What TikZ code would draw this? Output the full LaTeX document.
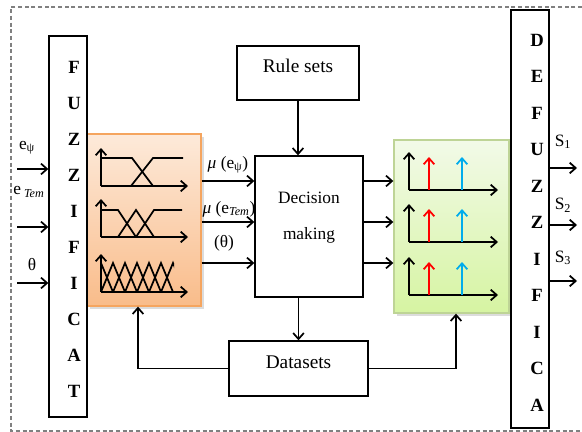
\documentclass[tikz,border=0pt]{standalone}
\usepackage{fontspec}
\setmainfont{Liberation Serif}
\usetikzlibrary{arrows.meta,positioning,fit,calc,shadows}
\definecolor{orangeline}{RGB}{245,165,95}
\definecolor{orangetop}{RGB}{253,234,218}
\definecolor{orangebot}{RGB}{249,188,138}
\definecolor{greenline}{RGB}{190,212,150}
\definecolor{greentop}{RGB}{242,250,232}
\definecolor{greenbot}{RGB}{214,244,162}
\definecolor{skyblue}{RGB}{0,172,236}
\tikzset{
  box/.style={draw,line width=1pt,inner sep=0pt,font=\fontsize{14.5}{17}\selectfont},
  column/.style={draw,line width=1pt,inner sep=0pt,fill=white},
  letter/.style={inner sep=0pt,font=\fontsize{14}{16}\selectfont\bfseries},
  lbl/.style={inner sep=0pt,font=\fontsize{13}{15}\selectfont},
  flow/.style={->,line width=1.3pt},
  mf/.style={line width=1.3pt},
  setbox/.style={line width=1pt,inner sep=0pt,drop shadow={shadow xshift=2pt,shadow yshift=-2pt,fill=gray!55}}
}
\begin{document}
\begin{tikzpicture}[x=0.75pt,y=-0.75pt,>={Straight Barb[length=4.5pt,width=8pt]}]
\useasboundingbox (0,0) rectangle (582,432);
\draw[gray,line width=0.8pt,dash pattern=on 3pt off 2pt] (582,7) -- (11,7) -- (11,431) -- (582,431);

\node[setbox,draw=orangeline,top color=orangetop,bottom color=orangebot,fit={(87,134) (201,306)}] (fuzzsets) {};
\node[setbox,draw=greenline,top color=greentop,bottom color=greenbot,fit={(394,140) (509,313)}] (outsets) {};
\node[column,fit={(49,36) (87,417)}] (fuzz) {};
\node[column,fit={(511,10) (549,428)}] (defuz) {};
\node[box,fit={(237,46) (359,100)}] (rules) {Rule sets};
\node[box,fit={(255,156) (363,297)}] (dec) {};
\node[lbl,align=center,font=\fontsize{13}{27}\selectfont] (dectext) at (309,218) {Decision\\making};
\node[box,fit={(229,341) (368,396)}] (data) {Datasets};

\foreach \l [count=\i from 0] in {F,U,Z,Z,I,F,I,C,A,T}
  \node[letter] at (74,67+36*\i) {\l};
\foreach \l [count=\i from 0] in {D,E,F,U,Z,Z,I,F,I,C,A}
  \node[letter] at (537,40+36.5*\i) {\l};

\coordinate (in1) at (17,169);
\coordinate (in2) at (17,227);
\coordinate (in3) at (17,283);
\foreach \c in {in1,in2,in3}
  \draw[flow] (\c) -- (\c -| fuzz.west);
\node[lbl] (epsi) at (27,148) {e\textsubscript{ψ}};
\node[lbl] (etem) at (29,192) {e\,\textsubscript{\itshape Tem}};
\node[lbl] (theta) at (32,265) {θ};

\coordinate (r1) at (0,181);
\coordinate (r2) at (0,222);
\coordinate (r3) at (0,263);
\foreach \r in {r1,r2,r3} {
  \draw[flow] (fuzzsets.east |- \r) -- (dec.west |- \r);
  \draw[flow] (dec.east |- \r) -- (outsets.west |- \r);
}
\node[lbl] (mu1) at (228,165) {{\itshape μ} (e\textsubscript{ψ})};
\node[lbl] (mu2) at (229,209) {{\itshape μ} (e\textsubscript{\itshape Tem})};
\node[lbl] (mu3) at (224,243) {(θ)};

\draw[flow] (rules) -- (rules |- dec.north);
\draw[flow] (dec.south -| data) -- (data);
\coordinate (fb) at (138,0);
\coordinate (gb) at (456,0);
\draw[flow] (data.west) -| (fb |- fuzzsets.south);
\draw[flow] (data.east) -| (gb |- outsets.south);

\coordinate (o1) at (577,168);
\coordinate (o2) at (577,225);
\coordinate (o3) at (577,281);
\foreach \c in {o1,o2,o3}
  \draw[flow] (\c -| defuz.east) -- (\c);
\node[lbl] (s1) at (563,142) {S\textsubscript{1}};
\node[lbl] (s2) at (563,205) {S\textsubscript{2}};
\node[lbl] (s3) at (563,258) {S\textsubscript{3}};

% membership functions
\foreach \b in {186,237,292} {
  \draw[flow] (101,\b) -- (101,\b-38);
  \draw[flow] (101,\b) -- (188,\b);
}
\draw[mf] (101,158) -- (132,158) -- (153,186);
\draw[mf] (131,186) -- (153,158) -- (183,158);
\draw[mf] (101,210) -- (118,210) -- (136,237);
\draw[mf] (118,237) -- (136,210) -- (154,237);
\draw[mf] (136,237) -- (154,210) -- (182,210);
\begin{scope}
  \clip (101,258) rectangle (174,293);
  \foreach \k in {0,...,6}
    \draw[mf] (89+12*\k,292) -- (101+12*\k,263) -- (113+12*\k,292);
\end{scope}

% output singletons
\foreach \b in {190,242,295} {
  \draw[flow] (409,\b) -- (409,\b-38);
  \draw[flow] (409,\b) -- (498,\b);
  \draw[flow,red] (429,\b) -- (429,\b-33);
  \draw[flow,skyblue] (462,\b) -- (462,\b-33);
}
\end{tikzpicture}
\end{document}
